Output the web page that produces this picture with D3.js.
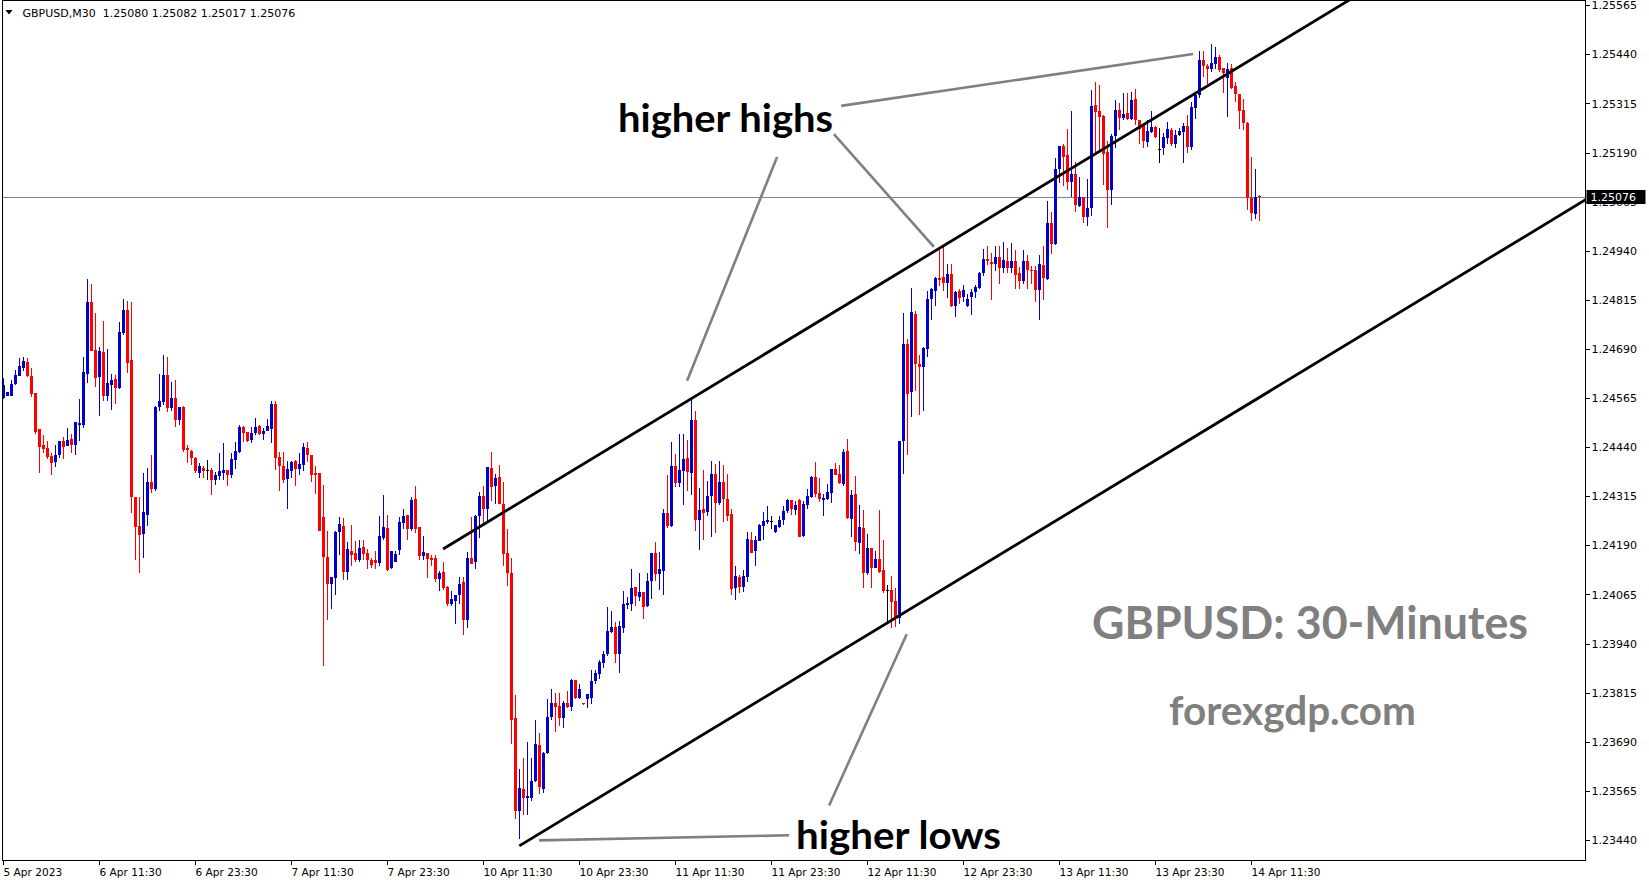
<!DOCTYPE html>
<html><head><meta charset="utf-8">
<script src="https://cdn.jsdelivr.net/npm/d3@7"></script>
<style>html,body{margin:0;padding:0;background:#fff;overflow:hidden}</style>
</head><body>
<svg id="chart" width="1649" height="884"></svg>
<script>
const opens=[1.24566,1.24571,1.24571,1.24600,1.24622,1.24642,1.24657,1.24621,1.24577,1.24486,1.24445,1.24437,1.24417,1.24403,1.24421,1.24455,1.24444,1.24461,1.24446,1.24497,1.24497,1.24627,1.24810,1.24687,1.24619,1.24682,1.24571,1.24599,1.24614,1.24591,1.24732,1.24789,1.24662,1.24313,1.24240,1.24219,1.24268,1.24351,1.24333,1.24542,1.24556,1.24624,1.24540,1.24565,1.24510,1.24542,1.24438,1.24430,1.24412,1.24375,1.24387,1.24381,1.24381,1.24357,1.24367,1.24375,1.24381,1.24370,1.24408,1.24427,1.24491,1.24478,1.24458,1.24476,1.24494,1.24474,1.24482,1.24486,1.24550,1.24415,1.24392,1.24359,1.24380,1.24404,1.24385,1.24395,1.24438,1.24419,1.24375,1.24375,1.24262,1.24160,1.24092,1.24107,1.24224,1.24239,1.24122,1.24177,1.24170,1.24153,1.24185,1.24170,1.24153,1.24152,1.24145,1.24209,1.24234,1.24132,1.24148,1.24178,1.24247,1.24267,1.24231,1.24308,1.24236,1.24163,1.24170,1.24157,1.24157,1.24104,1.24122,1.24084,1.24041,1.24048,1.24064,1.24096,1.24000,1.24157,1.24148,1.24265,1.24315,1.24283,1.24387,1.24342,1.24364,1.24295,1.24170,1.24121,1.23750,1.23513,1.23571,1.23546,1.23548,1.23589,1.23681,1.23571,1.23661,1.23752,1.23790,1.23781,1.23750,1.23790,1.23778,1.23847,1.23801,1.23790,1.23798,1.23801,1.23845,1.23863,1.23890,1.23913,1.23969,1.23981,1.23914,1.23980,1.24039,1.24042,1.24083,1.24059,1.24071,1.24035,1.24100,1.24170,1.24117,1.24125,1.24273,1.24239,1.24393,1.24349,1.24380,1.24412,1.24375,1.24509,1.24255,1.24282,1.24275,1.24316,1.24372,1.24299,1.24351,1.24309,1.24270,1.24081,1.24110,1.24085,1.24110,1.24204,1.24176,1.24202,1.24240,1.24250,1.24253,1.24223,1.24236,1.24254,1.24277,1.24306,1.24281,1.24306,1.24213,1.24294,1.24314,1.24365,1.24324,1.24306,1.24307,1.24324,1.24385,1.24372,1.24347,1.24430,1.24258,1.24321,1.24197,1.24234,1.24120,1.24183,1.24133,1.24155,1.24128,1.24076,1.24076,1.24049,1.24006,1.24457,1.24702,1.24580,1.24778,1.24652,1.24643,1.24690,1.24817,1.24838,1.24871,1.24873,1.24858,1.24881,1.24800,1.24838,1.24822,1.24800,1.24822,1.24835,1.24845,1.24884,1.24919,1.24912,1.24907,1.24924,1.24896,1.24914,1.24896,1.24914,1.24883,1.24863,1.24914,1.24891,1.24891,1.24840,1.24905,1.24868,1.25010,1.24957,1.25148,1.25206,1.25183,1.25115,1.25135,1.25055,1.25078,1.25026,1.25049,1.25310,1.25297,1.25282,1.25191,1.25095,1.25231,1.25298,1.25278,1.25290,1.25276,1.25326,1.25273,1.25259,1.25217,1.25242,1.25254,1.25200,1.25202,1.25227,1.25247,1.25211,1.25234,1.25242,1.25257,1.25203,1.25304,1.25336,1.25425,1.25410,1.25403,1.25416,1.25433,1.25405,1.25380,1.25405,1.25360,1.25339,1.25298,1.25265,1.25074,1.25033,1.25080];
const highs=[1.24617,1.24580,1.24611,1.24636,1.24667,1.24670,1.24667,1.24642,1.24577,1.24486,1.24471,1.24457,1.24426,1.24445,1.24455,1.24466,1.24489,1.24473,1.24504,1.24563,1.24670,1.24869,1.24856,1.24782,1.24694,1.24761,1.24690,1.24626,1.24624,1.24759,1.24818,1.24812,1.24810,1.24313,1.24313,1.24374,1.24387,1.24420,1.24546,1.24626,1.24675,1.24670,1.24606,1.24611,1.24542,1.24545,1.24445,1.24432,1.24415,1.24399,1.24392,1.24407,1.24387,1.24376,1.24425,1.24450,1.24381,1.24425,1.24453,1.24496,1.24494,1.24478,1.24491,1.24514,1.24496,1.24489,1.24512,1.24557,1.24557,1.24428,1.24427,1.24404,1.24404,1.24407,1.24425,1.24451,1.24453,1.24419,1.24392,1.24375,1.24343,1.24227,1.24109,1.24227,1.24262,1.24259,1.24198,1.24241,1.24200,1.24203,1.24203,1.24180,1.24157,1.24175,1.24264,1.24318,1.24267,1.24175,1.24177,1.24262,1.24283,1.24267,1.24313,1.24341,1.24236,1.24213,1.24170,1.24166,1.24165,1.24125,1.24149,1.24087,1.24075,1.24065,1.24109,1.24109,1.24173,1.24262,1.24267,1.24325,1.24341,1.24389,1.24427,1.24371,1.24394,1.24351,1.24231,1.24157,1.23809,1.23622,1.23650,1.23689,1.23650,1.23746,1.23712,1.23663,1.23798,1.23824,1.23814,1.23814,1.23795,1.23819,1.23849,1.23847,1.23837,1.23790,1.23812,1.23873,1.23873,1.23899,1.23922,1.24033,1.24022,1.23995,1.23997,1.24074,1.24058,1.24130,1.24085,1.24119,1.24071,1.24121,1.24170,1.24199,1.24172,1.24283,1.24368,1.24454,1.24423,1.24474,1.24474,1.24459,1.24564,1.24533,1.24337,1.24383,1.24354,1.24404,1.24398,1.24404,1.24395,1.24372,1.24283,1.24137,1.24114,1.24127,1.24224,1.24225,1.24214,1.24244,1.24275,1.24291,1.24266,1.24241,1.24265,1.24291,1.24309,1.24306,1.24304,1.24309,1.24304,1.24333,1.24367,1.24402,1.24362,1.24321,1.24347,1.24385,1.24400,1.24395,1.24436,1.24462,1.24330,1.24367,1.24293,1.24281,1.24219,1.24184,1.24177,1.24280,1.24204,1.24088,1.24111,1.24082,1.24457,1.24781,1.24715,1.24845,1.24786,1.24675,1.24695,1.24838,1.24845,1.24873,1.24942,1.24950,1.24907,1.24907,1.24838,1.24843,1.24853,1.24830,1.24843,1.24853,1.24886,1.24945,1.24953,1.24935,1.24951,1.24953,1.24962,1.24947,1.24959,1.24942,1.24899,1.24942,1.24930,1.24902,1.24902,1.24930,1.24953,1.25066,1.25038,1.25175,1.25206,1.25213,1.25251,1.25295,1.25167,1.25129,1.25078,1.25122,1.25349,1.25369,1.25363,1.25285,1.25220,1.25237,1.25323,1.25316,1.25341,1.25341,1.25344,1.25351,1.25273,1.25259,1.25272,1.25295,1.25257,1.25252,1.25241,1.25267,1.25252,1.25247,1.25252,1.25265,1.25285,1.25319,1.25339,1.25448,1.25448,1.25415,1.25466,1.25459,1.25438,1.25405,1.25418,1.25415,1.25370,1.25339,1.25327,1.25268,1.25178,1.25147,1.25082];
const lows=[1.24564,1.24571,1.24571,1.24600,1.24622,1.24634,1.24619,1.24568,1.24476,1.24375,1.24426,1.24410,1.24370,1.24390,1.24413,1.24410,1.24444,1.24426,1.24421,1.24456,1.24489,1.24604,1.24686,1.24594,1.24520,1.24558,1.24558,1.24535,1.24551,1.24589,1.24727,1.24630,1.24275,1.24155,1.24122,1.24160,1.24240,1.24324,1.24331,1.24533,1.24548,1.24530,1.24533,1.24492,1.24497,1.24428,1.24400,1.24395,1.24375,1.24364,1.24362,1.24357,1.24319,1.24344,1.24357,1.24357,1.24342,1.24364,1.24387,1.24426,1.24454,1.24455,1.24451,1.24473,1.24472,1.24459,1.24482,1.24451,1.24382,1.24331,1.24349,1.24285,1.24362,1.24342,1.24370,1.24380,1.24403,1.24352,1.24321,1.24227,1.23885,1.24002,1.24030,1.24064,1.24166,1.24104,1.24104,1.24140,1.24150,1.24148,1.24155,1.24132,1.24135,1.24130,1.24138,1.24206,1.24127,1.24132,1.24148,1.24166,1.24234,1.24204,1.24229,1.24222,1.24153,1.24153,1.24109,1.24140,1.24099,1.24076,1.24079,1.24038,1.24038,1.23990,1.24043,1.23962,1.23982,1.24143,1.24132,1.24211,1.24247,1.24252,1.24305,1.24296,1.24296,1.24138,1.24087,1.23686,1.23495,1.23444,1.23505,1.23505,1.23541,1.23589,1.23559,1.23561,1.23659,1.23747,1.23717,1.23731,1.23727,1.23778,1.23770,1.23801,1.23801,1.23786,1.23778,1.23788,1.23839,1.23850,1.23880,1.23909,1.23969,1.23893,1.23866,1.23967,1.24029,1.24024,1.24036,1.24049,1.24005,1.24035,1.24054,1.24101,1.24077,1.24066,1.24236,1.24237,1.24341,1.24341,1.24293,1.24330,1.24320,1.24227,1.24179,1.24205,1.24265,1.24212,1.24223,1.24294,1.24250,1.24253,1.24066,1.24051,1.24071,1.24072,1.24097,1.24171,1.24138,1.24202,1.24206,1.24247,1.24232,1.24223,1.24236,1.24244,1.24274,1.24269,1.24269,1.24212,1.24212,1.24284,1.24311,1.24314,1.24301,1.24265,1.24306,1.24298,1.24370,1.24347,1.24342,1.24258,1.24213,1.24176,1.24169,1.24082,1.24117,1.24082,1.24133,1.24122,1.24071,1.23991,1.23981,1.23983,1.23991,1.24374,1.24422,1.24519,1.24585,1.24524,1.24534,1.24672,1.24764,1.24800,1.24851,1.24838,1.24821,1.24797,1.24774,1.24807,1.24812,1.24797,1.24779,1.24821,1.24845,1.24876,1.24904,1.24815,1.24891,1.24856,1.24886,1.24884,1.24886,1.24845,1.24845,1.24856,1.24845,1.24858,1.24810,1.24766,1.24817,1.24868,1.24934,1.24955,1.25115,1.25105,1.25097,1.25079,1.25041,1.25053,1.25013,1.25005,1.25031,1.25191,1.25191,1.25110,1.25000,1.25059,1.25204,1.25249,1.25273,1.25273,1.25273,1.25262,1.25214,1.25204,1.25206,1.25242,1.25229,1.25166,1.25186,1.25214,1.25209,1.25204,1.25234,1.25166,1.25189,1.25199,1.25278,1.25331,1.25384,1.25367,1.25397,1.25403,1.25396,1.25344,1.25281,1.25352,1.25319,1.25252,1.25250,1.25044,1.25018,1.25023,1.25017];
const closes=[1.24598,1.24580,1.24601,1.24624,1.24647,1.24659,1.24621,1.24576,1.24478,1.24441,1.24436,1.24415,1.24400,1.24420,1.24455,1.24441,1.24458,1.24446,1.24504,1.24501,1.24631,1.24810,1.24686,1.24617,1.24685,1.24571,1.24603,1.24611,1.24591,1.24733,1.24789,1.24655,1.24313,1.24237,1.24216,1.24274,1.24351,1.24334,1.24542,1.24557,1.24624,1.24540,1.24565,1.24510,1.24542,1.24433,1.24433,1.24413,1.24379,1.24392,1.24380,1.24381,1.24357,1.24369,1.24379,1.24381,1.24370,1.24410,1.24430,1.24491,1.24477,1.24456,1.24476,1.24491,1.24474,1.24481,1.24494,1.24550,1.24413,1.24393,1.24357,1.24384,1.24402,1.24385,1.24397,1.24440,1.24419,1.24370,1.24370,1.24227,1.24160,1.24092,1.24109,1.24224,1.24244,1.24122,1.24180,1.24166,1.24153,1.24183,1.24168,1.24153,1.24140,1.24145,1.24213,1.24236,1.24128,1.24175,1.24168,1.24249,1.24264,1.24231,1.24305,1.24231,1.24163,1.24172,1.24155,1.24153,1.24104,1.24120,1.24081,1.24041,1.24053,1.24065,1.24092,1.24000,1.24157,1.24143,1.24265,1.24315,1.24283,1.24389,1.24339,1.24361,1.24296,1.24168,1.24120,1.23745,1.23513,1.23572,1.23548,1.23553,1.23589,1.23684,1.23574,1.23662,1.23752,1.23790,1.23778,1.23750,1.23790,1.23778,1.23847,1.23801,1.23824,1.23786,1.23812,1.23845,1.23865,1.23893,1.23913,1.23971,1.23981,1.23914,1.23986,1.24040,1.24043,1.24081,1.24060,1.24071,1.24033,1.24100,1.24170,1.24117,1.24129,1.24273,1.24240,1.24393,1.24350,1.24383,1.24410,1.24376,1.24509,1.24255,1.24279,1.24273,1.24316,1.24372,1.24298,1.24352,1.24307,1.24266,1.24079,1.24111,1.24085,1.24111,1.24206,1.24171,1.24204,1.24241,1.24253,1.24255,1.24253,1.24241,1.24255,1.24278,1.24306,1.24283,1.24293,1.24212,1.24296,1.24316,1.24365,1.24321,1.24307,1.24311,1.24327,1.24385,1.24370,1.24349,1.24428,1.24260,1.24319,1.24199,1.24236,1.24120,1.24183,1.24133,1.24156,1.24122,1.24074,1.24076,1.24046,1.24006,1.24457,1.24702,1.24575,1.24783,1.24652,1.24643,1.24692,1.24817,1.24843,1.24871,1.24866,1.24858,1.24881,1.24799,1.24835,1.24820,1.24840,1.24817,1.24834,1.24848,1.24884,1.24919,1.24914,1.24907,1.24924,1.24896,1.24917,1.24896,1.24914,1.24879,1.24863,1.24914,1.24891,1.24890,1.24840,1.24907,1.24870,1.25010,1.24957,1.25149,1.25206,1.25180,1.25115,1.25135,1.25056,1.25078,1.25026,1.25050,1.25309,1.25293,1.25280,1.25186,1.25095,1.25231,1.25298,1.25278,1.25288,1.25276,1.25323,1.25273,1.25250,1.25219,1.25244,1.25254,1.25230,1.25200,1.25229,1.25249,1.25211,1.25235,1.25244,1.25257,1.25203,1.25305,1.25336,1.25425,1.25410,1.25403,1.25418,1.25433,1.25400,1.25392,1.25402,1.25355,1.25339,1.25296,1.25265,1.25074,1.25036,1.25078,1.25076];

const priceTicks=[1.23440,1.23565,1.23690,1.23815,1.23940,1.24065,1.24190,1.24315,1.24440,1.24565,1.24690,1.24815,1.24940,1.25065,1.25190,1.25315,1.25440,1.25565];
const timeTickBars=[0,24,48,72,96,120,144,168,192,216,240,264,288,312];
const timeTickLabels=["5 Apr 2023","6 Apr 11:30","6 Apr 23:30","7 Apr 11:30","7 Apr 23:30","10 Apr 11:30","10 Apr 23:30","11 Apr 11:30","11 Apr 23:30","12 Apr 11:30","12 Apr 23:30","13 Apr 11:30","13 Apr 23:30","14 Apr 11:30"];
const headerText="GBPUSD,M30  1.25080 1.25082 1.25017 1.25076";
const lastPrice=1.25076;
const channelLines=[[[109.9,1.24181],[337.5,1.25585]],[[128.95,1.23425],[396,1.25073]]];
const pointerLines=[
  [[209.4,1.25309],[297.4,1.25441]],
  [[193.4,1.25179],[170.9,1.24609]],
  [[207.6,1.25237],[232.6,1.24950]],
  [[225.8,1.23964],[206.4,1.23528]],
  [[133.9,1.23439],[196.4,1.23452]]
];

const svg=d3.select("#chart");
const W=1649,H=884;
const L=2.5,R=1585.5,T=0.5,B=860.5;
const x=d3.scaleLinear().domain([0,395.5]).range([3.5,1585.5]);
const y=d3.scaleLinear().domain([1.23440,1.25565]).range([840.0,5.3]);

svg.append("rect").attr("width",W).attr("height",H).attr("fill","#fff");
svg.append("defs").append("clipPath").attr("id","plotclip")
  .append("rect").attr("x",L).attr("y",T).attr("width",R-L).attr("height",B-T);

const plot=svg.append("g").attr("clip-path","url(#plotclip)");

plot.append("line").attr("x1",L).attr("x2",R).attr("y1",Math.round(y(lastPrice))+0.5).attr("y2",Math.round(y(lastPrice))+0.5)
  .attr("stroke","#778899").attr("stroke-width",1);

const data=opens.map((o,i)=>({i,o,h:highs[i],l:lows[i],c:closes[i]}));
const col=d=>d.c>d.o?"#0000cd":(d.c<d.o?"#ff0000":"#000000");
const cg=plot.append("g").attr("shape-rendering","crispEdges");
cg.selectAll("line.w").data(data).join("line").attr("class","w")
  .attr("x1",d=>x(d.i)).attr("x2",d=>x(d.i))
  .attr("y1",d=>y(d.h)).attr("y2",d=>y(d.l)+0.5)
  .attr("stroke",col).attr("stroke-width",1);
cg.selectAll("rect.b").data(data).join("rect").attr("class","b")
  .attr("x",d=>x(d.i)-1.5).attr("width",3)
  .attr("y",d=>y(Math.max(d.o,d.c)))
  .attr("height",d=>Math.max(1,y(Math.min(d.o,d.c))-y(Math.max(d.o,d.c))))
  .attr("fill",col);

const lineGen=d3.line().x(p=>x(p[0])).y(p=>y(p[1]));
plot.selectAll("path.ch").data(channelLines).join("path").attr("class","ch")
  .attr("d",lineGen).attr("stroke","#000").attr("stroke-width",2.8).attr("fill","none");
plot.selectAll("path.pt").data(pointerLines).join("path").attr("class","pt")
  .attr("d",lineGen).attr("stroke","#808080").attr("stroke-width",2.6).attr("fill","none");

const big=[
  {t:"higher highs",x:618,y:131.5,s:39,len:215,c:"#000"},
  {t:"higher lows",x:796,y:849,s:39,len:205,c:"#000"},
  {t:"GBPUSD: 30-Minutes",x:1092,y:639,s:46,len:436,c:"#808080"},
  {t:"forexgdp.com",x:1169,y:725,s:40,len:247,c:"#808080"}
];
svg.selectAll("text.big").data(big).join("text").attr("class","big")
  .attr("x",d=>d.x).attr("y",d=>d.y).text(d=>d.t)
  .attr("font-family","Lato, 'Open Sans', sans-serif").attr("font-weight","bold")
  .attr("font-size",d=>d.s).attr("fill",d=>d.c)
  .attr("textLength",d=>d.len).attr("lengthAdjust","spacingAndGlyphs");

svg.append("rect").attr("x",L).attr("y",T).attr("width",R-L).attr("height",B-T)
  .attr("fill","none").attr("stroke","#000").attr("stroke-width",1).attr("shape-rendering","crispEdges");

const pa=svg.append("g").attr("font-family","'DejaVu Sans', sans-serif").attr("font-size",11);
pa.selectAll("line").data(priceTicks).join("line")
  .attr("x1",R).attr("x2",R+4).attr("y1",d=>Math.round(y(d))+0.5).attr("y2",d=>Math.round(y(d))+0.5)
  .attr("stroke","#000").attr("shape-rendering","crispEdges");
pa.selectAll("text").data(priceTicks.filter(d=>Math.abs(y(d)-y(lastPrice))>10)).join("text")
  .attr("x",R+6).attr("y",d=>y(d)+4).text(d=>d.toFixed(5)).attr("fill","#000");
// tick label partly hidden behind the price box, drawn clipped like the reference
const hiddenTick=priceTicks.filter(d=>Math.abs(y(d)-y(lastPrice))<=10);
svg.append("defs").append("clipPath").attr("id","belowbox")
  .append("rect").attr("x",R).attr("y",Math.round(y(lastPrice))+7).attr("width",70).attr("height",20);
svg.append("g").attr("clip-path","url(#belowbox)").selectAll("text").data(hiddenTick).join("text")
  .attr("x",R+6).attr("y",d=>y(d)+4).text(d=>d.toFixed(5)).attr("fill","#000")
  .attr("font-family","'DejaVu Sans', sans-serif").attr("font-size",11);

const ly=y(lastPrice);
svg.append("rect").attr("x",R+1).attr("y",Math.round(ly)-7).attr("width",59).attr("height",14).attr("fill","#000");
svg.append("text").attr("x",R+5).attr("y",ly+4).text(lastPrice.toFixed(5))
  .attr("font-family","'DejaVu Sans', sans-serif").attr("font-size",11).attr("fill","#fff");

const ta=svg.append("g").attr("font-family","'DejaVu Sans', sans-serif").attr("font-size",10.6);
ta.selectAll("line").data(timeTickBars).join("line")
  .attr("x1",d=>x(d)).attr("x2",d=>x(d)).attr("y1",B).attr("y2",B+4)
  .attr("stroke","#000").attr("shape-rendering","crispEdges");
ta.selectAll("text").data(timeTickBars).join("text")
  .attr("x",d=>x(d)).attr("y",B+15.5).text((d,i)=>timeTickLabels[i]).attr("fill","#000");

svg.append("path").attr("d","M5.5,10 L12.5,10 L9,14.5 Z").attr("fill","#000");
svg.append("text").attr("x",22.5).attr("y",17).text(headerText).attr("xml:space","preserve")
  .style("white-space","pre")
  .attr("font-family","'DejaVu Sans', sans-serif").attr("font-size",11).attr("fill","#000");
</script>
</body></html>
